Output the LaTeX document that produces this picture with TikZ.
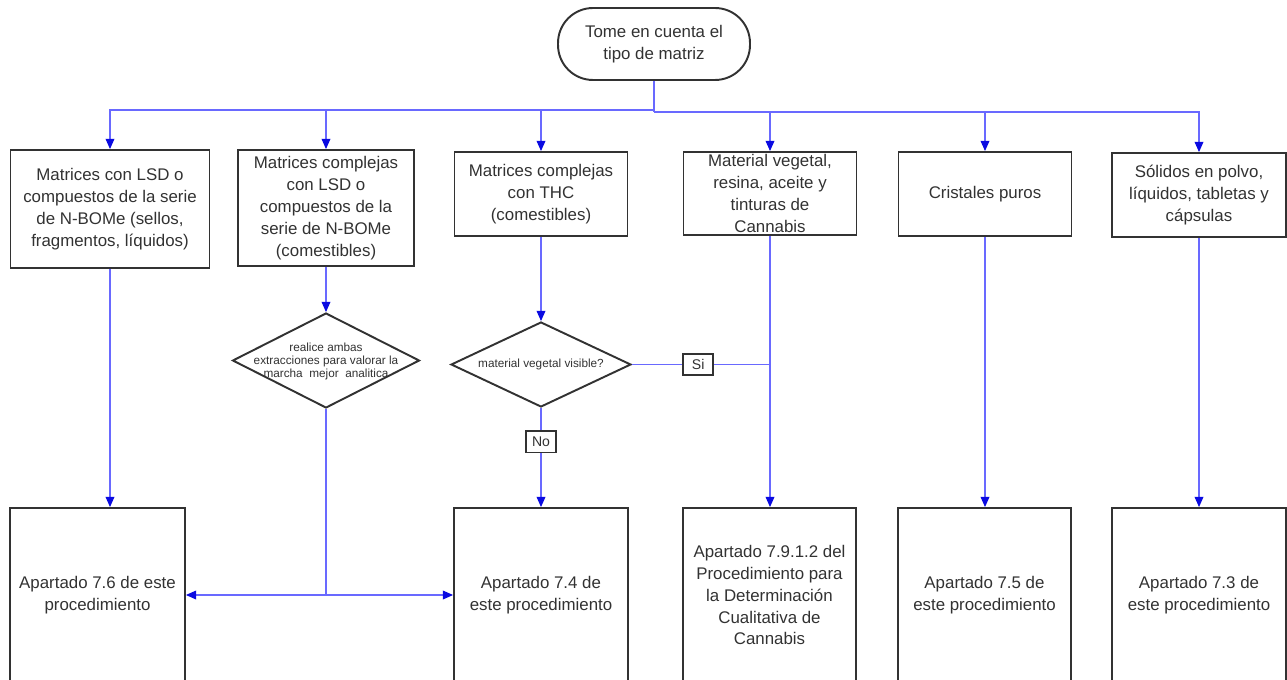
\documentclass[tikz,border=0pt]{standalone}
\usepackage{fontspec}
\setmainfont{Liberation Sans}
\usepackage{xcolor}
\usepackage{tikz}
\usetikzlibrary{shapes.geometric,arrows.meta}

\definecolor{wireblue}{RGB}{105,105,255}
\definecolor{tipblue}{RGB}{10,10,225}
\definecolor{inkgray}{RGB}{50,50,50}

\begin{document}
\begin{tikzpicture}[x=0.02cm,y=-0.02cm,
        box/.style={draw=inkgray, line width=1.1pt, text=inkgray, align=center, inner sep=0pt, font=\fontsize{9.6}{12.5}\selectfont},
        rhomb/.style={draw=inkgray, line width=1.1pt, diamond, inner sep=0pt},
        rhombtext/.style={text=inkgray, align=center, inner sep=0pt, font=\fontsize{6.7}{7.4}\selectfont},
        tag/.style={draw=inkgray, line width=0.9pt, fill=white, text=inkgray, inner sep=0pt, minimum width=0.6cm, minimum height=0.43cm, font=\fontsize{8}{9}\selectfont},
        wire/.style={draw=wireblue, line width=0.6pt},
        flow/.style={wire, -{Triangle[length=5.8pt,width=5pt,color=tipblue]}}]

        \useasboundingbox (0,0) rectangle (1287,679);
        \clip (0,0) rectangle (1287,679);

        \node[box, rounded corners=0.7cm, minimum width=3.84cm, minimum height=1.44cm] (start) at (654,44) {Tome en cuenta el\\tipo de matriz};

        \node[box, minimum width=3.98cm, minimum height=2.36cm] (lsd) at (110,209) {Matrices con LSD o\\compuestos de la serie\\de N-BOMe (sellos,\\fragmentos, líquidos)};
        \node[box, minimum width=3.52cm, minimum height=2.32cm] (lsdcom) at (326,208) {Matrices complejas\\con LSD o\\compuestos de la\\serie de N-BOMe\\(comestibles)};
        \node[box, minimum width=3.46cm, minimum height=1.68cm] (thc) at (541,194) {Matrices complejas\\con THC\\(comestibles)};
        \node[box, minimum width=3.46cm, minimum height=1.66cm] (veg) at (770,193.5) {Material vegetal,\\resina, aceite y\\tinturas de\\Cannabis};
        \node[box, minimum width=3.46cm, minimum height=1.68cm] (crist) at (985,194) {Cristales puros};
        \node[box, minimum width=3.48cm, minimum height=1.68cm] (solid) at (1199,195) {Sólidos en polvo,\\líquidos, tabletas y\\cápsulas};

        \node[rhomb, minimum width=3.74cm, minimum height=1.9cm] (ambas) at (326,360.5) {};
        \node[rhombtext] (ambastext) at (326,361) {realice ambas\\extracciones para valorar la\\marcha\ \ mejor\ \ analitica};
        \node[rhomb, minimum width=3.6cm, minimum height=1.7cm] (visible) at (541,364.5) {};
        \node[rhombtext] (visibletext) at (541,364.5) {material vegetal visible?};

        \node[box, minimum width=3.5cm, minimum height=3.48cm] (ap76) at (97.5,595) {Apartado 7.6 de este\\procedimiento};
        \node[box, minimum width=3.48cm, minimum height=3.48cm] (ap74) at (541,595) {Apartado 7.4 de\\este procedimiento};
        \node[box, minimum width=3.46cm, minimum height=3.48cm] (ap7912) at (769.5,595) {Apartado 7.9.1.2 del\\Procedimiento para\\la Determinación\\Cualitativa de\\Cannabis};
        \node[box, minimum width=3.46cm, minimum height=3.48cm] (ap75) at (984.5,595) {Apartado 7.5 de\\este procedimiento};
        \node[box, minimum width=3.48cm, minimum height=3.48cm] (ap73) at (1199,595) {Apartado 7.3 de\\este procedimiento};

        % reparto desde el inicio
        \coordinate (bus) at (654,110);
        \coordinate (busr) at (654,112);
        \draw[wire] (start.south) -- (busr);
        \draw[flow] (bus) -| (lsd.north);
        \draw[flow] (bus) -| (lsdcom.north);
        \draw[flow] (bus) -| (thc.north);
        \draw[flow] (busr) -| (veg.north);
        \draw[flow] (busr) -| (crist.north);
        \draw[flow] (busr) -| (solid.north);

        \draw[flow] (lsd.south) -- (lsd.south |- ap76.north);
        \draw[flow] (lsdcom.south) -- (ambas.north);
        \coordinate (split) at (326,595);
        \draw[wire] (ambas.south) -- (split);
        \draw[flow] (split) -- (ap76.east);
        \draw[flow] (split) -- (ap74.west);

        \draw[flow] (thc.south) -- (visible.north);
        \draw[flow] (visible.south) -- (ap74.north) node[tag, pos=0.34] (no) {No};
        \coordinate (sijoin) at (veg.south |- visible.east);
        \draw[wire] (visible.east) -- (sijoin) node[tag, pos=0.48] (si) {Si};

        \draw[flow] (veg.south) -- (veg.south |- ap7912.north);
        \draw[flow] (crist.south) -- (crist.south |- ap75.north);
        \draw[flow] (solid.south) -- (ap73.north);
    \end{tikzpicture}
\end{document}
